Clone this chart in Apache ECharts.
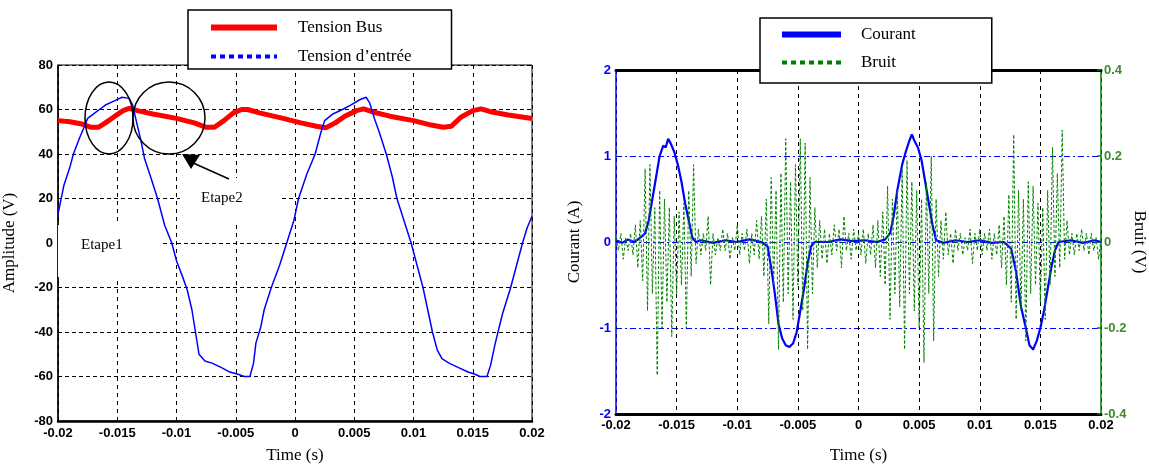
<!DOCTYPE html>
<html><head><meta charset="utf-8">
<script src="https://cdn.jsdelivr.net/npm/echarts@6.0.0/dist/echarts.min.js"></script>
<style>html,body{margin:0;padding:0;background:#fff}#c{width:1149px;height:469px}</style>
</head><body><div id="c"></div>
<script>
// ---------- Left chart data ----------
const busTime = [-0.0200,-0.0190,-0.0180,-0.0172,-0.0166,-0.0160,-0.0152,-0.0145,-0.0140,-0.0133,-0.0120,-0.0100,-0.0085,-0.0075,-0.0068,-0.0060,-0.0052,-0.0045,-0.0040,-0.0030,-0.0010,0.0005,0.0018,0.0026,0.0034,0.0042,0.0052,0.0058,0.0065,0.0080,0.0100,0.0115,0.0125,0.0132,0.0140,0.0150,0.0157,0.0165,0.0180,0.0200];
const busVolt = [55,54.5,53.5,52,52,54,57,59.5,60.5,59.5,58,56,54,52,52,55,58.5,60,60,58.5,56,54,52.5,51.8,54,57,59.5,60.3,59,57,55,53,52,52.5,56.5,59.5,60.3,59,57.5,56];
const inTime = [-0.0200,-0.0195,-0.0190,-0.0187,-0.0182,-0.0178,-0.0175,-0.0170,-0.0165,-0.0160,-0.0152,-0.0146,-0.0140,-0.0137,-0.0134,-0.0130,-0.0127,-0.0122,-0.0116,-0.0110,-0.0104,-0.0100,-0.0095,-0.0091,-0.0087,-0.0084,-0.0081,-0.0076,-0.0070,-0.0062,-0.0055,-0.0048,-0.0043,-0.0038,-0.0035,-0.0033,-0.0029,-0.0026,-0.0020,-0.0013,-0.0007,-0.0001,0.0003,0.0010,0.0017,0.0022,0.0025,0.0032,0.0040,0.0047,0.0055,0.0060,0.0063,0.0067,0.0071,0.0077,0.0082,0.0086,0.0092,0.0098,0.0103,0.0108,0.0112,0.0116,0.0120,0.0124,0.0130,0.0138,0.0146,0.0152,0.0156,0.0162,0.0165,0.0169,0.0175,0.0182,0.0187,0.0192,0.0196,0.0200];
const inVolt = [13,26,34,40,47,52,56,58,60,62,64,65.5,65,62,55,46,38,30,20,8,0,-8,-15,-21,-30,-40,-50,-53,-54,-56,-58,-59,-60,-60,-54,-45,-38,-30,-20,-10,0,10,20,31,40,50,55,58,60,62,64.5,65.5,63,56,50,40,30,20,10,0,-10,-20,-30,-40,-48,-52,-54,-56,-58,-59,-60,-60,-55,-45,-32,-20,-10,0,7,12];

// ---------- Right chart data ----------
const courTime = [-0.0200,-0.0195,-0.0190,-0.0185,-0.0180,-0.0176,-0.0173,-0.0170,-0.0167,-0.0164,-0.0161,-0.0159,-0.0157,-0.0155,-0.0152,-0.0149,-0.0146,-0.0143,-0.0140,-0.0137,-0.0134,-0.0130,-0.0120,-0.0110,-0.0100,-0.0090,-0.0080,-0.0075,-0.0072,-0.0069,-0.0066,-0.0063,-0.0060,-0.0057,-0.0054,-0.0051,-0.0048,-0.0045,-0.0042,-0.0039,-0.0036,-0.0025,-0.0015,-0.0005,0.0005,0.0015,0.0022,0.0026,0.0029,0.0032,0.0036,0.0039,0.0042,0.0044,0.0046,0.0049,0.0052,0.0055,0.0058,0.0061,0.0064,0.0070,0.0080,0.0090,0.0100,0.0110,0.0120,0.0126,0.0130,0.0134,0.0138,0.0141,0.0144,0.0147,0.0150,0.0153,0.0156,0.0159,0.0162,0.0165,0.0175,0.0185,0.0195,0.0200];
const courAmp = [0.02,-0.01,0.03,0.0,0.05,0.1,0.25,0.5,0.75,1.0,1.12,1.1,1.2,1.15,1.05,0.9,0.7,0.45,0.25,0.05,0.0,0.02,-0.01,0.02,0.0,0.03,0.0,-0.05,-0.3,-0.6,-0.95,-1.12,-1.2,-1.22,-1.18,-1.05,-0.8,-0.55,-0.25,-0.05,0.0,0.0,0.03,0.01,0.02,0.0,0.03,0.1,0.3,0.6,0.9,1.05,1.18,1.25,1.18,1.1,0.95,0.7,0.45,0.2,0.02,-0.01,0.02,0.0,0.02,-0.01,0.0,-0.08,-0.35,-0.75,-1.0,-1.2,-1.25,-1.15,-1.0,-0.8,-0.55,-0.3,-0.1,0.0,0.02,-0.01,0.02,0.0];
const bruitStart = -0.02, bruitStep = 0.0002;
const bruitVolt = [0.01,-0.02,0.02,-0.04,0.01,-0.02,0.02,-0.03,0.04,-0.06,
0.05,-0.09,0.17,-0.16,0.18,-0.12,0.08,-0.31,0.12,-0.2,
0.1,-0.14,0.08,-0.22,0.06,-0.12,0.07,-0.1,0.09,-0.2,
0.12,-0.08,0.18,-0.05,0.03,-0.03,0.02,-0.02,0.06,-0.1,
0.02,-0.03,0.01,-0.02,0.03,-0.02,0.02,-0.04,0.01,-0.02,
0.04,-0.03,0.02,-0.02,0.03,-0.05,0.02,-0.03,0.05,-0.04,
0.06,-0.08,0.1,-0.19,0.15,-0.1,0.12,-0.25,0.16,-0.14,
0.24,-0.12,0.14,-0.18,0.18,-0.1,0.24,-0.16,0.23,-0.25,
0.15,-0.12,0.08,-0.06,0.05,-0.04,0.03,-0.05,0.02,-0.03,
0.04,-0.02,0.03,-0.06,0.06,-0.02,0.02,-0.04,0.03,-0.02,
0.02,-0.03,0.03,-0.05,0.02,-0.03,0.04,-0.06,0.05,-0.08,
0.07,-0.1,0.13,-0.18,0.1,-0.12,0.12,-0.15,0.17,-0.25,
0.19,-0.12,0.14,-0.16,0.12,-0.2,0.1,-0.28,0.14,-0.12,
0.2,-0.23,0.1,-0.08,0.05,-0.04,0.07,-0.03,0.02,-0.05,
0.03,-0.02,0.02,-0.03,0.01,-0.02,0.03,-0.05,0.02,-0.02,
0.03,-0.03,0.02,-0.02,0.03,-0.04,0.02,-0.03,0.04,-0.06,
0.06,-0.1,0.11,-0.14,0.25,-0.18,0.12,-0.16,0.1,-0.23,
0.14,-0.12,0.13,-0.1,0.09,-0.14,0.08,-0.18,0.12,-0.1,
0.22,-0.08,0.16,-0.06,0.26,-0.04,0.05,-0.03,0.02,-0.03,
0.02,-0.02,0.03,-0.02,0.02,-0.03,0.02,-0.02,0.01,-0.04,
0.01];

// ---------- build ----------
const zip = (a, b) => a.map((t, i) => [t, b[i]]);
const bruitTime = bruitVolt.map((_, i) => bruitStart + i * bruitStep);
const fmtX = v => String(+v.toFixed(4));
const serif = 'Liberation Serif';
const tickFont = { fontFamily: 'Liberation Sans', fontWeight: 'bold', fontSize: 13 };
const noSymbol = { opacity: 0, borderWidth: 0 };

const chart = echarts.init(document.getElementById('c'), null, { renderer: 'canvas' });
const option = {
  animation: false,
  backgroundColor: '#fff',
  grid: [
    { left: 57, top: 65, width: 475, height: 368, show: true, borderColor: '#000', borderWidth: 1, containLabel: false },
    { left: 616, top: 70, width: 488, height: 354, show: false, containLabel: false }
  ],
  legend: [
    {
      left: 188, top: 10, orient: 'vertical',
      backgroundColor: '#fff', borderColor: '#000', borderWidth: 1.5,
      padding: [9, 40, 4, 20], itemGap: 12, itemWidth: 66, itemHeight: 14,
      textStyle: { fontFamily: serif, fontSize: 17, color: '#000', padding: [0, 0, 0, 16] },
      data: [
        { name: 'Tension Bus', itemStyle: noSymbol, lineStyle: { width: 6, color: '#ff0000', type: 'solid' } },
        { name: 'Tension d\u2019entrée', itemStyle: noSymbol, lineStyle: { width: 4, color: '#0000ff', type: [5, 4] } }
      ]
    },
    {
      left: 760, top: 18, orient: 'vertical',
      backgroundColor: '#fff', borderColor: '#000', borderWidth: 1.5,
      padding: [8, 76, 12, 19], itemGap: 11, itemWidth: 59, itemHeight: 14,
      textStyle: { fontFamily: serif, fontSize: 17, color: '#000', padding: [0, 0, 0, 15] },
      data: [
        { name: 'Courant', itemStyle: noSymbol, lineStyle: { width: 6, color: '#0000ff', type: 'solid' } },
        { name: 'Bruit', itemStyle: noSymbol, lineStyle: { width: 4, color: '#008000', type: [5, 4] } }
      ]
    }
  ],
  xAxis: [
    {
      gridIndex: 0, type: 'value', min: -0.02, max: 0.02, interval: 0.005,
      name: 'Time (s)', nameLocation: 'middle', nameGap: 26,
      nameTextStyle: { fontFamily: serif, fontSize: 17, color: '#000' },
      axisLine: { show: true, onZero: false, lineStyle: { color: '#000', width: 2.5 } },
      axisTick: { show: false },
      axisLabel: Object.assign({ color: '#000', margin: 6, formatter: fmtX, showMinLabel: true, showMaxLabel: true }, tickFont),
      splitLine: { show: true, lineStyle: { color: '#000', type: [4, 4], width: 1 } }
    },
    {
      gridIndex: 1, type: 'value', min: -0.02, max: 0.02, interval: 0.005,
      name: 'Time (s)', nameLocation: 'middle', nameGap: 33,
      nameTextStyle: { fontFamily: serif, fontSize: 17, color: '#000' },
      axisLine: { show: true, onZero: false, lineStyle: { color: '#000', width: 3 } },
      axisTick: { show: false },
      axisLabel: Object.assign({ color: '#000', margin: 5, formatter: fmtX, showMinLabel: true, showMaxLabel: true }, tickFont),
      splitLine: { show: true, lineStyle: { color: '#000', type: [4, 4], width: 1 } }
    },
    {
      gridIndex: 1, type: 'value', min: -0.02, max: 0.02, interval: 0.005, position: 'top',
      axisLine: { show: true, onZero: false, lineStyle: { color: '#000', width: 3 } },
      axisTick: { show: false }, axisLabel: { show: false }, splitLine: { show: false }
    }
  ],
  yAxis: [
    {
      gridIndex: 0, type: 'value', min: -80, max: 80, interval: 20,
      name: 'Amplitude (V)', nameLocation: 'middle', nameGap: 40, nameRotate: 90,
      nameTextStyle: { fontFamily: serif, fontSize: 17, color: '#000' },
      axisLine: { show: true, onZero: false, lineStyle: { color: '#000', width: 1.5 } },
      axisTick: { show: false },
      axisLabel: Object.assign({ color: '#000', margin: 5 }, tickFont),
      splitLine: { show: true, lineStyle: { color: '#000', type: [4, 3], width: 1 } }
    },
    {
      gridIndex: 1, type: 'value', min: -2, max: 2, interval: 1,
      name: 'Courant (A)', nameLocation: 'middle', nameGap: 33, nameRotate: 90,
      nameTextStyle: { fontFamily: serif, fontSize: 17, color: '#000' },
      axisLine: { show: true, onZero: false, lineStyle: { color: '#0000ff', width: 1.5 } },
      axisTick: { show: false },
      axisLabel: Object.assign({ color: '#0000ff', margin: 5 }, tickFont),
      splitLine: { show: true, lineStyle: { color: '#0000ff', type: [6, 3, 2, 3], width: 1 } }
    },
    {
      gridIndex: 1, type: 'value', min: -0.4, max: 0.4, interval: 0.2, position: 'right',
      name: 'Bruit (V)', nameLocation: 'middle', nameGap: 30, nameRotate: -90,
      nameTextStyle: { fontFamily: serif, fontSize: 17, color: '#000' },
      axisLine: { show: true, onZero: false, lineStyle: { color: '#008000', width: 1.5 } },
      axisTick: { show: true, inside: true, length: 4, lineStyle: { color: '#008000', width: 1.5 } },
      axisLabel: Object.assign({ color: '#3c8c28', margin: 3, formatter: v => String(+v.toFixed(1)) }, tickFont),
      splitLine: { show: false }
    }
  ],
  series: [
    {
      name: 'Tension Bus', type: 'line', xAxisIndex: 0, yAxisIndex: 0, symbol: 'none', z: 3,
      data: zip(busTime, busVolt), lineStyle: { color: '#ff0000', width: 5 }, itemStyle: { color: '#ff0000' }
    },
    {
      name: 'Tension d\u2019entrée', type: 'line', xAxisIndex: 0, yAxisIndex: 0, symbol: 'none', z: 4,
      data: zip(inTime, inVolt), lineStyle: { color: '#0000ff', width: 1.5 }, itemStyle: { color: '#0000ff' }
    },
    {
      name: 'Courant', type: 'line', xAxisIndex: 1, yAxisIndex: 1, symbol: 'none', z: 3,
      data: zip(courTime, courAmp), lineStyle: { color: '#0000ff', width: 2.2 }, itemStyle: { color: '#0000ff' }
    },
    {
      name: 'Bruit', type: 'line', xAxisIndex: 1, yAxisIndex: 2, symbol: 'none', z: 4,
      data: zip(bruitTime, bruitVolt), lineStyle: { color: '#008000', width: 1, type: [3, 2] }, itemStyle: { color: '#008000' }
    }
  ],
  graphic: [
    { type: 'rect', z: 1, silent: true, shape: { x: 58, y: 225, width: 102, height: 52 }, style: { fill: '#fff' } },
    { type: 'rect', z: 1, silent: true, shape: { x: 180, y: 178, width: 100, height: 47 }, style: { fill: '#fff' } },
    { type: 'text', z: 20, left: 81, top: 238, style: { text: 'Etape1', font: '15px "Liberation Serif"', fill: '#000' } },
    { type: 'text', z: 20, left: 201, top: 191, style: { text: 'Etape2', font: '15px "Liberation Serif"', fill: '#000' } },
    { type: 'ellipse', z: 20, shape: { cx: 109, cy: 118, rx: 24, ry: 36 }, style: { fill: 'none', stroke: '#000', lineWidth: 1.5 } },
    { type: 'ellipse', z: 20, shape: { cx: 169, cy: 118, rx: 36, ry: 36 }, style: { fill: 'none', stroke: '#000', lineWidth: 1.5 } },
    { type: 'line', z: 20, shape: { x1: 229, y1: 179, x2: 191, y2: 162 }, style: { stroke: '#000', lineWidth: 1.5 } },
    { type: 'polygon', z: 20, shape: { points: [[182, 154], [200, 155], [191, 169]] }, style: { fill: '#000' } }
  ]
};
chart.setOption(option);
</script>
</body></html>
